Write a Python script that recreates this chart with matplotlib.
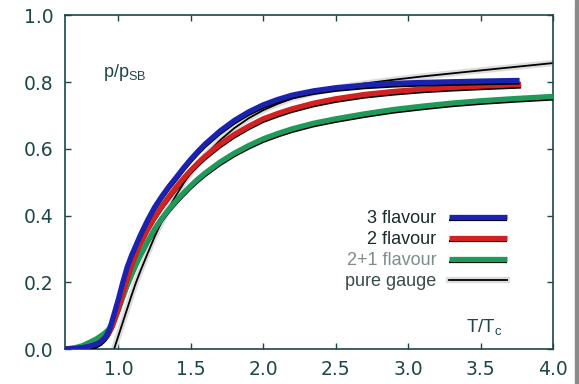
import numpy as np
import matplotlib.pyplot as plt
import matplotlib.patheffects as pe
from matplotlib.patches import Rectangle

plt.rcParams['font.family'] = ['Liberation Sans', 'DejaVu Sans']
plt.rcParams['mathtext.fontset'] = 'custom'
plt.rcParams['mathtext.rm'] = 'Liberation Sans'
plt.rcParams['mathtext.it'] = 'Liberation Sans'

ink = '#1d4646'

# 3 flavour
x3 = [0.63, 0.70, 0.75, 0.80, 0.85, 0.88, 0.91, 0.94, 0.96, 0.98, 1.0, 1.03, 1.06, 1.09,
      1.12, 1.15, 1.2, 1.25, 1.3, 1.35, 1.4, 1.45, 1.5, 1.55, 1.6, 1.7, 1.8, 1.9, 2.0,
      2.1, 2.2, 2.35, 2.5, 2.7, 2.9, 3.1, 3.3, 3.5, 3.77]
y3 = [0.0, 0.002, 0.004, 0.008, 0.015, 0.022, 0.035, 0.06, 0.09, 0.12, 0.15, 0.2, 0.245,
      0.28, 0.31, 0.34, 0.385, 0.425, 0.458, 0.488, 0.515, 0.543, 0.569, 0.593, 0.615,
      0.653, 0.685, 0.711, 0.732, 0.748, 0.761, 0.774, 0.783, 0.791, 0.796, 0.799, 0.801,
      0.803, 0.805]
# 2 flavour
x2 = [0.63, 0.7, 0.75, 0.8, 0.85, 0.9, 0.93, 0.96, 0.98, 1.0, 1.03, 1.06, 1.09, 1.12,
      1.15, 1.2, 1.25, 1.3, 1.35, 1.4, 1.45, 1.5, 1.55, 1.6, 1.7, 1.8, 1.9, 2.0, 2.1,
      2.2, 2.35, 2.5, 2.7, 2.9, 3.1, 3.3, 3.5, 3.78]
y2 = [0.0, 0.001, 0.003, 0.008, 0.015, 0.03, 0.045, 0.07, 0.095, 0.12, 0.165, 0.21, 0.25,
      0.285, 0.315, 0.358, 0.395, 0.428, 0.458, 0.486, 0.512, 0.536, 0.558, 0.578, 0.613,
      0.643, 0.668, 0.69, 0.706, 0.72, 0.737, 0.75, 0.763, 0.772, 0.779, 0.784, 0.788,
      0.793]
# 2+1 flavour
x21 = [0.63, 0.7, 0.75, 0.8, 0.85, 0.9, 0.93, 0.96, 0.98, 1.0, 1.03, 1.06, 1.09, 1.12,
       1.15, 1.2, 1.25, 1.3, 1.35, 1.4, 1.45, 1.5, 1.55, 1.6, 1.7, 1.8, 1.9, 2.0, 2.1,
       2.2, 2.35, 2.5, 2.7, 2.9, 3.1, 3.3, 3.5, 3.75, 4.0]
y21 = [0.0, 0.004, 0.01, 0.02, 0.031, 0.046, 0.058, 0.078, 0.097, 0.118, 0.155, 0.19,
       0.222, 0.252, 0.28, 0.322, 0.36, 0.392, 0.42, 0.445, 0.468, 0.49, 0.51, 0.528,
       0.56, 0.587, 0.61, 0.63, 0.646, 0.66, 0.677, 0.69, 0.705, 0.718, 0.728, 0.737,
       0.744, 0.751, 0.757]
# pure gauge
xg = [0.97, 1.0, 1.03, 1.06, 1.09, 1.12, 1.15, 1.2, 1.25, 1.3, 1.35, 1.4, 1.45, 1.5,
      1.55, 1.6, 1.7, 1.8, 1.9, 2.0, 2.1, 2.2, 2.35, 2.5, 2.7, 2.9, 3.1, 3.3, 3.5, 3.75,
      4.0]
yg = [0.0, 0.04, 0.08, 0.12, 0.16, 0.198, 0.232, 0.285, 0.337, 0.383, 0.425, 0.462,
      0.497, 0.528, 0.556, 0.581, 0.625, 0.662, 0.692, 0.716, 0.735, 0.751, 0.768, 0.782,
      0.796, 0.807, 0.817, 0.826, 0.835, 0.846, 0.857]

labels = ['3 flavour', '2 flavour', '2+1 flavour', 'pure gauge']
label_colors = ['#1a2a2a', '#1a2a2a', '#7f8c8c', '#3a4a4a']

fig = plt.figure(figsize=(5.79, 3.84), dpi=100)
ax = fig.add_axes([0.112, 0.091, 0.843, 0.869])

# pure gauge: black line inside a pale grey band
gline, = ax.plot(xg, yg, color='black', lw=1.3, zorder=2,
                 path_effects=[pe.Stroke(linewidth=4.5, foreground='#dcdcdc'), pe.Normal()])

# flavour bands: coloured band with a black lower edge
handles = []
for xs, ys, c in [(x21, y21, '#1f9a5a'), (x2, y2, '#d42020'), (x3, y3, '#1a22b0')]:
    band, = ax.plot(xs, ys, color=c, lw=3.8, solid_capstyle='butt', zorder=3,
                    path_effects=[pe.SimpleLineShadow(offset=(0, -2.2), shadow_color='black',
                                                      alpha=1, linewidth=1.6),
                                  pe.Normal()])
    handles.append(band)
handles = handles[::-1] + [gline]

leg = ax.legend(handles, labels, loc='upper right', bbox_to_anchor=(0.906, 0.416),
                markerfirst=False, frameon=False, fontsize=13, handlelength=3.2,
                handletextpad=0.72, labelspacing=0.22, borderaxespad=0, borderpad=0)
for t, c in zip(leg.get_texts(), label_colors):
    t.set_color(c)

ax.text(0.89, 0.83, r'p/p$_{\mathrm{SB}}$', fontsize=13, color=ink, ha='left', va='center')
ax.text(3.4, 0.066, r'T/T$_{\mathrm{c}}$', fontsize=13.5, color=ink, ha='left', va='center')

ax.set_xlim(0.63, 4.0)
ax.set_ylim(0.0, 1.0)
ax.set_xticks([1.0, 1.5, 2.0, 2.5, 3.0, 3.5, 4.0])
ax.set_yticks([0.0, 0.2, 0.4, 0.6, 0.8, 1.0])
ax.xaxis.set_major_formatter(plt.FormatStrFormatter('%.1f'))
ax.yaxis.set_major_formatter(plt.FormatStrFormatter('%.1f'))
ax.tick_params(direction='in', length=4, width=1, colors=ink, labelsize=13.5,
               top=True, right=True, pad=8)
for lab in ax.get_xticklabels() + ax.get_yticklabels():
    lab.set_fontfamily('DejaVu Sans')
for s in ax.spines.values():
    s.set_color(ink)
    s.set_linewidth(1.2)

fig.patches.append(Rectangle((0.993, 0), 0.007, 1, transform=fig.transFigure,
                             color='#8a8a8a', zorder=0))

fig.savefig('out.png', dpi=100)
